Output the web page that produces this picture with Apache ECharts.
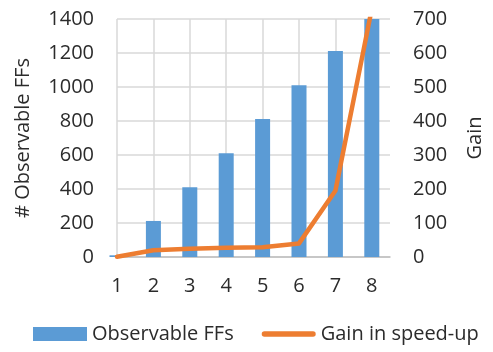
<!DOCTYPE html>
<html><head><meta charset="utf-8">
<script src="https://cdn.jsdelivr.net/npm/echarts@6/dist/echarts.min.js"></script>
<style>html,body{margin:0;padding:0;background:#fff}#c{width:493px;height:352px}</style>
</head><body><div id="c"></div>
<script>
const categories = [1, 2, 3, 4, 5, 6, 7, 8];
const observableFFs = [10, 212, 410, 611, 812, 1011, 1212, 1410];
const gainSpeedup = [1, 20, 24, 27, 29, 40, 195, 730];
const seriesNames = ['Observable FFs', 'Gain in speed-up'];

const FONT = 'Open Sans';
const TXT = '#2b2b2b';
const GRID = '#d9d9d9';

const barData = categories.map((c, i) => [c, observableFFs[i]]);
const lineData = categories.map((c, i) => [c, gainSpeedup[i]]);

const chart = echarts.init(document.getElementById('c'), null, {renderer: 'canvas'});
chart.setOption({
  animation: false,
  textStyle: {fontFamily: FONT},
  grid: {left: 117, right: 95, top: 19, bottom: 95, containLabel: false},
  legend: {
    bottom: 3, left: 28,
    itemWidth: 54, itemHeight: 14, itemGap: 28,
    textStyle: {fontFamily: FONT, fontSize: 20, color: TXT},
    data: [
      {name: seriesNames[0], icon: 'rect'},
      {name: seriesNames[1], icon: 'path://M5,0 L95,0 A5,5 0 0 1 95,10 L5,10 A5,5 0 0 1 5,0 Z'}
    ]
  },
  xAxis: {
    type: 'value', min: 1, max: 8.5, interval: 1,
    axisTick: {show: false},
    axisLine: {show: true, lineStyle: {color: '#bfbfbf', width: 1.5}},
    axisLabel: {fontSize: 20, color: TXT, margin: 19, fontFamily: FONT,
      formatter: v => Number.isInteger(v) ? String(v) : ''},
    splitLine: {show: true, lineStyle: {color: [GRID, GRID, GRID, GRID, GRID, GRID, GRID, GRID, 'rgba(0,0,0,0)'], width: 1.5}}
  },
  yAxis: [
    {
      type: 'value', min: 0, max: 1400, interval: 200,
      name: '# Observable FFs', nameLocation: 'middle', nameGap: 84,
      nameTextStyle: {fontSize: 20, color: TXT, fontFamily: FONT},
      axisLine: {show: false}, axisTick: {show: false},
      axisLabel: {fontSize: 20, color: TXT, margin: 23, fontFamily: FONT, formatter: v => String(v)},
      splitLine: {show: true, lineStyle: {color: GRID, width: 1.5}}
    },
    {
      type: 'value', min: 0, max: 700, interval: 100, position: 'right',
      name: 'Gain', nameLocation: 'middle', nameGap: 75,
      nameTextStyle: {fontSize: 20, color: TXT, fontFamily: FONT},
      axisLine: {show: false}, axisTick: {show: false},
      axisLabel: {fontSize: 20, color: TXT, margin: 23, fontFamily: FONT, formatter: v => String(v)},
      splitLine: {show: false}
    }
  ],
  series: [
    {
      name: seriesNames[0], type: 'bar', yAxisIndex: 0, data: barData,
      barWidth: 15, itemStyle: {color: '#5B9BD5'}, clip: true
    },
    {
      name: seriesNames[1], type: 'line', yAxisIndex: 1, data: lineData,
      symbol: 'none', clip: true,
      lineStyle: {color: '#ED7D31', width: 4.5, join: 'round', cap: 'round'},
      itemStyle: {color: '#ED7D31'}
    }
  ]
});
</script></body></html>
